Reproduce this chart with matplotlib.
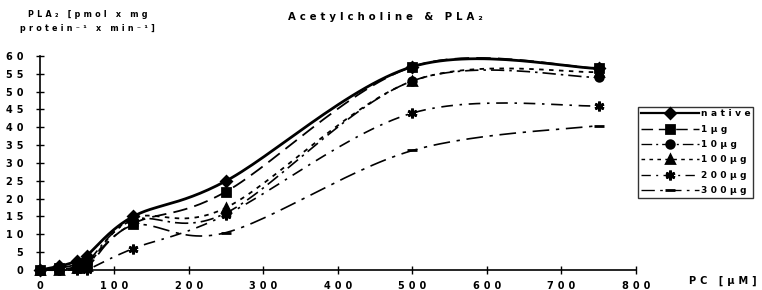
import numpy as np
import matplotlib
matplotlib.use("Agg")
import matplotlib.pyplot as plt

# PC concentration (uM) and PLA2 activity
pc = [0, 25, 50, 62.5, 125, 250, 500, 750]
native = [0, 1.0, 2.5, 4.0, 15.0, 25.0, 57.0, 56.5]
ug1 = [0, 0.5, 1.5, 2.0, 13.0, 22.0, 57.0, 56.5]
ug10 = [0, 0, 1.0, 2.0, 14.0, 16.0, 53.0, 54.0]
ug100 = [0, 0, 0.5, 1.0, 14.5, 17.5, 53.0, 55.5]
ug200 = [0, 0, 0, 0, 6.0, 15.5, 44.0, 46.0]
ug300 = [0, 0, 0, 0.5, 12.5, 10.5, 33.5, 40.5]
labels = ["native", "1µg", "10µg", "100µg", "200µg", "300µg"]

TS = "\u2009"


def spaced(s, k=1):
    return (TS * k).join(s)


def smooth(x, y, n=30):
    # excel-like smoothed line (catmull-rom through the points)
    p = np.column_stack([x, y]).astype(float)
    p = np.vstack([p[0], p, p[-1]])
    out = []
    for i in range(1, len(p) - 2):
        p0, p1, p2, p3 = p[i - 1], p[i], p[i + 1], p[i + 2]
        c1 = p1 + (p2 - p0) / 6
        c2 = p2 - (p3 - p1) / 6
        t = np.linspace(0, 1, n)[:, None]
        seg = ((1 - t) ** 3) * p1 + 3 * ((1 - t) ** 2) * t * c1 + 3 * (1 - t) * t ** 2 * c2 + t ** 3 * p2
        out.append(seg if i == 1 else seg[1:])
    s = np.vstack(out)
    return s[:, 0], s[:, 1]


styles = [
    dict(ls="-", lw=2.0, marker="D", ms=5.5),
    dict(ls=(0, (8, 4)), lw=1.3, marker="s", ms=5.5),
    dict(ls=(0, (8, 3, 1.5, 3)), lw=1.2, marker="o", ms=5.5),
    dict(ls=(0, (2.5, 3)), lw=1.3, marker="^", ms=5.5),
    dict(ls=(0, (7, 4, 1.5, 4)), lw=1.2, marker=(6, 2, 0), ms=7),
    dict(ls=(0, (10, 4, 2, 4)), lw=1.2, marker="_", ms=7),
]
series = [native, ug1, ug10, ug100, ug200, ug300]

fig = plt.figure(figsize=(7.62, 2.90), dpi=100)
ax = fig.add_axes([0.0525, 0.069, 0.782, 0.738])

for vals, st, lab in zip(series, styles, labels):
    sx, sy = smooth(pc, vals)
    ax.plot(sx, sy, color="black", ls=st["ls"], lw=st["lw"], clip_on=False)
    ax.plot(pc, vals, ls="none", color="black", marker=st["marker"], ms=st["ms"],
            mew=2, clip_on=False)
    ax.plot([], [], color="black", ls=st["ls"], lw=st["lw"] * 0.8, marker=st["marker"],
            ms=st["ms"], mew=2, label=spaced(lab, 2))

ax.set_xlim(0, 800)
ax.set_ylim(0, 60)
ax.set_xticks(range(0, 801, 100))
ax.set_yticks(range(0, 61, 5))
ax.set_xticklabels([spaced(str(v), 2) for v in range(0, 801, 100)])
ax.set_yticklabels([spaced(str(v), 2) for v in range(0, 61, 5)])
for sp in ["top", "right"]:
    ax.spines[sp].set_visible(False)
ax.spines["left"].set_linewidth(1.2)
ax.spines["bottom"].set_linewidth(1.2)
ax.tick_params(direction="inout", length=6, width=1, labelsize=7)
ax.tick_params(axis="y", pad=9)
ax.tick_params(axis="x", pad=5)
for t in ax.get_xticklabels() + ax.get_yticklabels():
    t.set_fontweight("bold")

fig.text(0.506, 0.94, spaced("Acetylcholine & PLA₂", 2), ha="center", va="center",
         fontsize=7.3, fontweight="bold")
fig.text(0.115, 0.925, spaced("PLA₂ [pmol x mg", 2) + "\n" + spaced("protein⁻¹ x min⁻¹]", 2),
         ha="center", va="center", fontsize=5.8, fontweight="bold", linespacing=1.7)
fig.text(0.948, 0.03, spaced("PC [µM]", 2), ha="center", va="center",
         fontsize=7, fontweight="bold")

leg = fig.legend(loc="upper left", bbox_to_anchor=(0.837, 0.632), fontsize=6.5,
                 handlelength=6.5, frameon=True, fancybox=False, edgecolor="black",
                 borderpad=0.3, labelspacing=0.7, handletextpad=0.2, borderaxespad=0)
leg.get_frame().set_linewidth(1.0)
for t in leg.get_texts():
    t.set_fontweight("bold")

fig.savefig("out.png", dpi=100)
